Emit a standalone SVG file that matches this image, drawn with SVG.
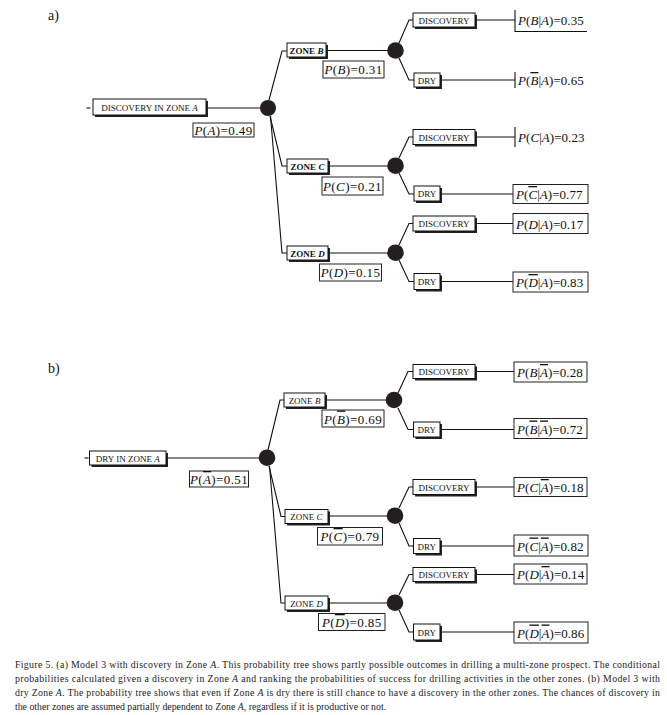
<svg xmlns="http://www.w3.org/2000/svg" width="667" height="715" viewBox="0 0 667 715">
<style>
.bg{fill:#fff}
.box{fill:#fff;stroke:#111;stroke-width:1}
.sh{fill:#222}
.pb{fill:#fff;stroke:#222;stroke-width:1}
.ln{fill:none;stroke:#111;stroke-width:1.1}
.dot{fill:#231f20}
.t{font-family:"Liberation Serif","Times New Roman",serif;font-size:9px;fill:#111}
.tb{font-family:"Liberation Serif","Times New Roman",serif;font-size:9px;font-weight:bold;fill:#111}
.p{font-family:"Liberation Serif","Times New Roman",serif;font-size:13px;letter-spacing:0.4px;fill:#111}
.pc{font-family:"Liberation Serif","Times New Roman",serif;font-size:13px;letter-spacing:0.05px;fill:#111}
.i{font-style:italic}
.o{text-decoration:overline}
.lab{font-family:"Liberation Serif","Times New Roman",serif;font-size:14px;fill:#111}
.cap{font-family:"Liberation Serif","Times New Roman",serif;font-size:9.8px;fill:#222}
</style>
<rect class="bg" x="0" y="0" width="667" height="715"/>
<text class="lab" x="48" y="20">a)</text>
<text class="lab" x="48" y="373">b)</text>

<g id="connectors">
<!-- part a -->
<path class="ln" d="M86.5 108H90.5"/>
<path class="ln" d="M206 108H268"/>
<path class="ln" d="M269 100L282 51H287"/>
<path class="ln" d="M270 116L282 166H287"/>
<path class="ln" d="M270.5 116L282 253H287"/>
<path class="ln" d="M326 50.5H395"/>
<path class="ln" d="M328 166H395"/>
<path class="ln" d="M328 253H395"/>
<path class="ln" d="M399 43L409 20H413"/>
<path class="ln" d="M399 58L409 80H414"/>
<path class="ln" d="M399 158L409 137H413"/>
<path class="ln" d="M399 173L409 194H414"/>
<path class="ln" d="M399 245L409 223.5H413"/>
<path class="ln" d="M399 260L409 281.5H414"/>
<path class="ln" d="M477 20H515"/>
<path class="ln" d="M442 80H515"/>
<path class="ln" d="M477 137H515"/>
<path class="ln" d="M442 194H513"/>
<path class="ln" d="M477 223.5H513"/>
<path class="ln" d="M442 281.5H513"/>
<!-- part b -->
<path class="ln" d="M84.5 458H88.5"/>
<path class="ln" d="M166 458H267"/>
<path class="ln" d="M268 450L280 400H284"/>
<path class="ln" d="M269 466L281 516.5H285"/>
<path class="ln" d="M269.5 466L281 603H285"/>
<path class="ln" d="M325 400H394"/>
<path class="ln" d="M328 516H395"/>
<path class="ln" d="M328 603H395"/>
<path class="ln" d="M398 393L408 371.5H413"/>
<path class="ln" d="M398 408L408 429.5H413.5"/>
<path class="ln" d="M399 508L409 487H413"/>
<path class="ln" d="M399 523L409 546H413.5"/>
<path class="ln" d="M399 595L409 574.5H413"/>
<path class="ln" d="M399 610L409 632H413.5"/>
<path class="ln" d="M477 371.5H514"/>
<path class="ln" d="M442 429.5H514"/>
<path class="ln" d="M477 487H514"/>
<path class="ln" d="M442 546H514"/>
<path class="ln" d="M477 574.5H514"/>
<path class="ln" d="M442 632H514"/>
</g>

<!-- ===== part a nodes ===== -->
<g id="a-root">
<rect class="sh" x="95" y="101" width="113" height="16"/>
<rect class="box" x="93" y="99" width="113" height="16"/>
<text class="t" x="149.5" y="110.5" text-anchor="middle">DISCOVERY IN ZONE  <tspan class="i">A</tspan></text>
</g>
<g id="a-pA"><rect class="pb" x="193" y="123" width="61" height="14"/>
<text class="p" x="223.5" y="134.5" text-anchor="middle"><tspan class="i">P</tspan>(<tspan class="i">A</tspan>)=0.49</text></g>
<g id="a-chance"><circle class="dot" cx="268" cy="108" r="8"/></g>

<g id="a-zoneB">
<rect class="sh" x="289" y="45" width="39" height="14"/>
<rect class="box" x="287" y="43" width="39" height="14"/>
<text class="tb" x="306.5" y="53.5" text-anchor="middle">ZONE <tspan class="i">B</tspan></text>
</g>
<g id="a-pB"><rect class="pb" x="323" y="61" width="61" height="17"/>
<text class="p" x="353.5" y="74" text-anchor="middle"><tspan class="i">P</tspan>(<tspan class="i">B</tspan>)=0.31</text></g>
<g id="a-chanceB"><circle class="dot" cx="395.5" cy="50.5" r="8.3"/></g>

<g id="a-zoneC">
<rect class="sh" x="289" y="161" width="41" height="14"/>
<rect class="box" x="287" y="159" width="41" height="14"/>
<text class="tb" x="307.5" y="169.5" text-anchor="middle">ZONE <tspan class="i">C</tspan></text>
</g>
<g id="a-pC"><rect class="pb" x="322" y="177" width="61" height="18"/>
<text class="p" x="352.5" y="190.5" text-anchor="middle"><tspan class="i">P</tspan>(<tspan class="i">C</tspan>)=0.21</text></g>
<g id="a-chanceC"><circle class="dot" cx="395.5" cy="165.7" r="8.3"/></g>

<g id="a-zoneD">
<rect class="sh" x="289" y="248" width="41" height="14"/>
<rect class="box" x="287" y="246" width="41" height="14"/>
<text class="tb" x="307.5" y="256.5" text-anchor="middle">ZONE <tspan class="i">D</tspan></text>
</g>
<g id="a-pD"><rect class="pb" x="319.5" y="264" width="62" height="17"/>
<text class="p" x="350.5" y="277" text-anchor="middle"><tspan class="i">P</tspan>(<tspan class="i">D</tspan>)=0.15</text></g>
<g id="a-chanceD"><circle class="dot" cx="395.5" cy="252.7" r="8.3"/></g>

<g id="a-B-disc">
<rect class="sh" x="415" y="15" width="62" height="14"/>
<rect class="box" x="413" y="13" width="62" height="14"/>
<text class="t" x="444" y="23.5" text-anchor="middle">DISCOVERY</text>
</g>
<g id="a-B-dry">
<rect class="sh" x="416" y="75" width="26" height="14"/>
<rect class="box" x="414" y="73" width="26" height="14"/>
<text class="t" x="427" y="83.5" text-anchor="middle">DRY</text>
</g>
<g id="a-C-disc">
<rect class="sh" x="415" y="131.5" width="62" height="15"/>
<rect class="box" x="413" y="129.5" width="62" height="15"/>
<text class="t" x="444" y="140.5" text-anchor="middle">DISCOVERY</text>
</g>
<g id="a-C-dry">
<rect class="sh" x="416" y="188" width="26" height="15"/>
<rect class="box" x="414" y="186" width="26" height="15"/>
<text class="t" x="427" y="197" text-anchor="middle">DRY</text>
</g>
<g id="a-D-disc">
<rect class="sh" x="415" y="218" width="62" height="15"/>
<rect class="box" x="413" y="216" width="62" height="15"/>
<text class="t" x="444" y="227" text-anchor="middle">DISCOVERY</text>
</g>
<g id="a-D-dry">
<rect class="sh" x="416" y="275.5" width="26" height="16"/>
<rect class="box" x="414" y="273.5" width="26" height="16"/>
<text class="t" x="427" y="285" text-anchor="middle">DRY</text>
</g>

<g id="a-pBA">
<path class="ln" d="M515 10V31.5H587"/>
<text class="pc" x="518" y="25"><tspan class="i">P</tspan>(<tspan class="i">B</tspan>|<tspan class="i">A</tspan>)=0.35</text>
</g>
<g id="a-pnBA">
<path class="ln" d="M515 72V88"/>
<text class="pc" x="518" y="85"><tspan class="i">P</tspan>(<tspan class="i o">B</tspan>|<tspan class="i">A</tspan>)=0.65</text>
</g>
<g id="a-pCA">
<path class="ln" d="M515 127V147"/>
<text class="pc" x="518" y="142"><tspan class="i">P</tspan>(<tspan class="i">C</tspan>|<tspan class="i">A</tspan>)=0.23</text>
</g>
<g id="a-pnCA"><rect class="pb" x="513" y="184.5" width="75" height="19"/>
<text class="pc" x="516" y="199"><tspan class="i">P</tspan>(<tspan class="i o">C</tspan>|<tspan class="i">A</tspan>)=0.77</text></g>
<g id="a-pDA"><rect class="pb" x="513" y="213.5" width="75" height="20"/>
<text class="pc" x="516" y="228.5"><tspan class="i">P</tspan>(<tspan class="i">D</tspan>|<tspan class="i">A</tspan>)=0.17</text></g>
<g id="a-pnDA"><rect class="pb" x="513" y="272" width="75" height="20"/>
<text class="pc" x="516" y="287"><tspan class="i">P</tspan>(<tspan class="i o">D</tspan>|<tspan class="i">A</tspan>)=0.83</text></g>

<!-- ===== part b nodes ===== -->
<g id="b-root">
<rect class="sh" x="91.5" y="453" width="76.5" height="14"/>
<rect class="box" x="89.5" y="451" width="76.5" height="14"/>
<text class="t" x="127.75" y="461.5" text-anchor="middle">DRY IN ZONE <tspan class="i">A</tspan></text>
</g>
<g id="b-pA"><rect class="pb" x="189.5" y="471" width="59" height="16"/>
<text class="p" x="219" y="484" text-anchor="middle"><tspan class="i">P</tspan>(<tspan class="i o">A</tspan>)=0.51</text></g>
<g id="b-chance"><circle class="dot" cx="267" cy="457.7" r="8.3"/></g>

<g id="b-zoneB">
<rect class="sh" x="286" y="395" width="41" height="14"/>
<rect class="box" x="284" y="393" width="41" height="14"/>
<text class="t" x="304.5" y="403.5" text-anchor="middle">ZONE <tspan class="i">B</tspan></text>
</g>
<g id="b-pB"><rect class="pb" x="322" y="410" width="62" height="17"/>
<text class="p" x="353" y="423.5" text-anchor="middle"><tspan class="i">P</tspan>(<tspan class="i o">B</tspan>)=0.69</text></g>
<g id="b-chanceB"><circle class="dot" cx="394" cy="400" r="8.3"/></g>

<g id="b-zoneC">
<rect class="sh" x="287" y="511.5" width="43" height="14"/>
<rect class="box" x="285" y="509.5" width="43" height="14"/>
<text class="t" x="306.5" y="520" text-anchor="middle">ZONE <tspan class="i">C</tspan></text>
</g>
<g id="b-pC"><rect class="pb" x="317.5" y="527.5" width="65" height="17.5"/>
<text class="p" x="350" y="541" text-anchor="middle"><tspan class="i">P</tspan>(<tspan class="i o">C</tspan>)=0.79</text></g>
<g id="b-chanceC"><circle class="dot" cx="395" cy="515.7" r="8.3"/></g>

<g id="b-zoneD">
<rect class="sh" x="287" y="598" width="43" height="14"/>
<rect class="box" x="285" y="596" width="43" height="14"/>
<text class="t" x="306.5" y="606.5" text-anchor="middle">ZONE <tspan class="i">D</tspan></text>
</g>
<g id="b-pD"><rect class="pb" x="318.5" y="613.5" width="66.5" height="17"/>
<text class="p" x="351.75" y="627" text-anchor="middle"><tspan class="i">P</tspan>(<tspan class="i o">D</tspan>)=0.85</text></g>
<g id="b-chanceD"><circle class="dot" cx="395" cy="602.7" r="8.3"/></g>

<g id="b-B-disc">
<rect class="sh" x="415" y="366.5" width="62" height="14"/>
<rect class="box" x="413" y="364.5" width="62" height="14"/>
<text class="t" x="444" y="375" text-anchor="middle">DISCOVERY</text>
</g>
<g id="b-B-dry">
<rect class="sh" x="415.5" y="424" width="26.5" height="15"/>
<rect class="box" x="413.5" y="422" width="26.5" height="15"/>
<text class="t" x="426.75" y="433" text-anchor="middle">DRY</text>
</g>
<g id="b-C-disc">
<rect class="sh" x="415" y="481.5" width="62" height="15"/>
<rect class="box" x="413" y="479.5" width="62" height="15"/>
<text class="t" x="444" y="490.5" text-anchor="middle">DISCOVERY</text>
</g>
<g id="b-C-dry">
<rect class="sh" x="415.5" y="540.5" width="26.5" height="15"/>
<rect class="box" x="413.5" y="538.5" width="26.5" height="15"/>
<text class="t" x="426.75" y="549.5" text-anchor="middle">DRY</text>
</g>
<g id="b-D-disc">
<rect class="sh" x="415" y="569.5" width="62" height="14"/>
<rect class="box" x="413" y="567.5" width="62" height="14"/>
<text class="t" x="444" y="578" text-anchor="middle">DISCOVERY</text>
</g>
<g id="b-D-dry">
<rect class="sh" x="415.5" y="626" width="26.5" height="16"/>
<rect class="box" x="413.5" y="624" width="26.5" height="16"/>
<text class="t" x="426.75" y="635.5" text-anchor="middle">DRY</text>
</g>

<g id="b-pBA"><rect class="pb" x="514" y="362" width="73" height="20"/>
<text class="pc" x="517" y="377"><tspan class="i">P</tspan>(<tspan class="i">B</tspan>|<tspan class="i o">A</tspan>)=0.28</text></g>
<g id="b-pnBA"><rect class="pb" x="514" y="418.5" width="73" height="20"/>
<text class="pc" x="517" y="433.5"><tspan class="i">P</tspan>(<tspan class="i o">B</tspan>|<tspan class="i o">A</tspan>)=0.72</text></g>
<g id="b-pCA"><rect class="pb" x="514" y="477.5" width="73" height="19"/>
<text class="pc" x="517" y="492"><tspan class="i">P</tspan>(<tspan class="i">C</tspan>|<tspan class="i o">A</tspan>)=0.18</text></g>
<g id="b-pnCA"><rect class="pb" x="514" y="535" width="74" height="21"/>
<text class="pc" x="517" y="550.5"><tspan class="i">P</tspan>(<tspan class="i o">C</tspan>|<tspan class="i o">A</tspan>)=0.82</text></g>
<g id="b-pDA"><rect class="pb" x="514" y="564" width="73" height="20"/>
<text class="pc" x="517" y="579"><tspan class="i">P</tspan>(<tspan class="i">D</tspan>|<tspan class="i o">A</tspan>)=0.14</text></g>
<g id="b-pnDA"><rect class="pb" x="514" y="622" width="74" height="21"/>
<text class="pc" x="517" y="637.5"><tspan class="i">P</tspan>(<tspan class="i o">D</tspan>|<tspan class="i o">A</tspan>)=0.86</text></g>

<g id="caption">
<text class="cap" x="15" y="668" textLength="645" lengthAdjust="spacing">Figure 5. (a) Model 3 with discovery in Zone <tspan class="i">A</tspan>. This probability tree shows partly possible outcomes in drilling a multi-zone prospect. The conditional</text>
<text class="cap" x="15" y="682" textLength="645" lengthAdjust="spacing">probabilities calculated given a discovery in Zone <tspan class="i">A</tspan> and ranking the probabilities of success for drilling activities in the other zones. (b) Model 3 with</text>
<text class="cap" x="15" y="696" textLength="645" lengthAdjust="spacing">dry Zone <tspan class="i">A</tspan>. The probability tree shows that even if Zone <tspan class="i">A</tspan> is dry there is still chance to have a discovery in the other zones. The chances of discovery in</text>
<text class="cap" x="15" y="710">the other zones are assumed partially dependent to Zone <tspan class="i">A</tspan>, regardless if it is productive or not.</text>
</g>
</svg>
